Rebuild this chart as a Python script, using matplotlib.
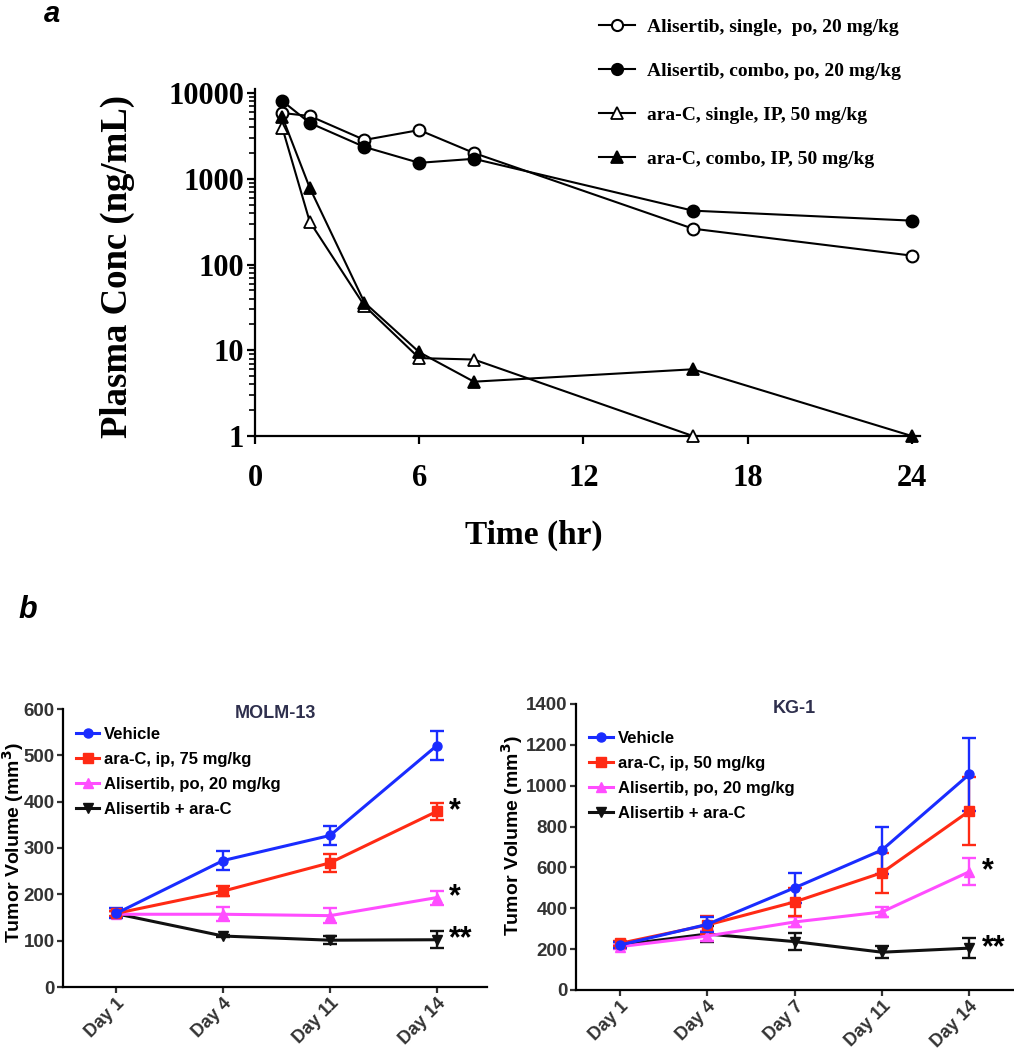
import numpy as np
import matplotlib
matplotlib.use("Agg")
import matplotlib.pyplot as plt
from matplotlib.lines import Line2D
from matplotlib.ticker import LogLocator, NullFormatter

# --- panel a: plasma PK ---
time_alis = [1, 2, 4, 6, 8, 16, 24]
alis_single = [5850, 5400, 2840, 3700, 2000, 262, 127]
alis_combo = [8070, 4480, 2350, 1535, 1710, 425, 325]
time_arac_single = [1, 2, 4, 6, 8, 16]
arac_single = [3920, 316, 33, 8.1, 7.8, 1.0]
time_arac_combo = [1, 2, 4, 6, 8, 16, 24]
arac_combo = [5250, 785, 36, 9.5, 4.3, 6.0, 1.0]
pk_labels = ["Alisertib, single,  po, 20 mg/kg",
             "Alisertib, combo, po, 20 mg/kg",
             "ara-C, single, IP, 50 mg/kg",
             "ara-C, combo, IP, 50 mg/kg"]

# --- panel b: tumour volume ---
series_names_molm = ["Vehicle", "ara-C, ip, 75 mg/kg", "Alisertib, po, 20 mg/kg", "Alisertib + ara-C"]
series_names_kg = ["Vehicle", "ara-C, ip, 50 mg/kg", "Alisertib, po, 20 mg/kg", "Alisertib + ara-C"]

molm_days = ["Day 1", "Day 4", "Day 11", "Day 14"]
molm_mean = [[159, 273, 327, 521],
             [159, 207, 268, 379],
             [157, 157, 154, 193],
             [158, 110, 101, 102]]
molm_err = [[11, 20, 20, 32],
            [6, 11, 19, 18],
            [6, 15, 16, 15],
            [6, 3, 9, 18]]

kg_days = ["Day 1", "Day 4", "Day 7", "Day 11", "Day 14"]
kg_mean = [[220, 321, 500, 685, 1056],
           [228, 318, 431, 574, 876],
           [212, 264, 333, 382, 579],
           [220, 274, 237, 185, 205]]
kg_err = [[15, 38, 72, 115, 178],
          [12, 42, 68, 97, 165],
          [10, 25, 26, 26, 65],
          [14, 38, 40, 28, 49]]

colors = ["#1a2cff", "#ff2a14", "#ff4dff", "#111111"]
markers = ["o", "s", "^", "v"]

W, H = 1014, 1050
fig = plt.figure(figsize=(W / 100, H / 100), dpi=100)

def box(left, top, right, bottom):
    return [left / W, 1 - bottom / H, (right - left) / W, (bottom - top) / H]

serif = "Liberation Serif"
sans = "Liberation Sans"

# ---------------- panel a ----------------
ax = fig.add_axes(box(255, 89.5, 920, 436))
ax.plot(time_alis, alis_single, "-o", color="black", mfc="white", mec="black",
        ms=8.5, mew=1.5, lw=1.5, label=pk_labels[0], clip_on=False, zorder=3)
ax.plot(time_alis, alis_combo, "-o", color="black", mfc="black",
        ms=8.5, mew=1.5, lw=1.5, label=pk_labels[1], clip_on=False, zorder=3)
ax.plot(time_arac_single, arac_single, "-^", color="black", mfc="white", mec="black",
        ms=8, mew=1.3, lw=1.5, label=pk_labels[2], clip_on=False, zorder=3)
ax.plot(time_arac_combo, arac_combo, "-^", color="black", mfc="black",
        ms=8, mew=1.3, lw=1.5, label=pk_labels[3], clip_on=False, zorder=3)
ax.set_yscale("log")
ax.set_ylim(1, 11000)
ax.set_xlim(0, 24.3)
ax.set_xticks([0, 6, 12, 18, 24])
ax.set_yticks([1, 10, 100, 1000, 10000])
ax.set_yticklabels(["1", "10", "100", "1000", "10000"])
ax.yaxis.set_minor_locator(LogLocator(base=10, subs=np.arange(2, 10)))
ax.yaxis.set_minor_formatter(NullFormatter())
for s in ["top", "right"]:
    ax.spines[s].set_visible(False)
for s in ["left", "bottom"]:
    ax.spines[s].set_linewidth(1.6)
ax.tick_params(axis="both", which="major", direction="out", length=6, width=1.6)
ax.tick_params(axis="y", which="minor", direction="out", length=4.5, width=1.2)
ax.tick_params(axis="x", pad=14)
ax.tick_params(axis="y", pad=2)
for lab in ax.get_xticklabels() + ax.get_yticklabels():
    lab.set_fontfamily(serif)
    lab.set_fontweight("bold")
    lab.set_fontsize(22)
ax.set_xlabel("Time (hr)", fontfamily=serif, fontweight="bold", fontsize=24, va="center")
ax.xaxis.set_label_coords(0.42, (436 - 535) / 346.5)
ax.set_ylabel("Plasma Conc (ng/mL)", fontfamily=serif, fontweight="bold", fontsize=26.5, va="center")
ax.yaxis.set_label_coords((117 - 255) / 665, 0.49)
leg = ax.legend(loc="upper left", bbox_to_anchor=(581 / W, 1 - 1 / H), bbox_transform=fig.transFigure,
                frameon=False, handlelength=1.9, handletextpad=0.6, labelspacing=1.35,
                prop={"family": serif, "weight": "bold", "size": 14})
for h in leg.legend_handles:
    h.set_markersize(8)
fig.text(52 / W, 1 - 14 / H, "a", fontfamily=sans, fontweight="bold", fontstyle="italic",
         fontsize=21, ha="center", va="center")

# ---------------- panel b ----------------
fig.text(28 / W, 1 - 610 / H, "b", fontfamily=sans, fontweight="bold", fontstyle="italic",
         fontsize=22, ha="center", va="center")

def tumor_panel(rect, left_px, days, means, errs, names, ymax, ystep, title, stars,
                leg_top, xright, ylab_x, ylab_y):
    bx = fig.add_axes(rect)
    width_px = rect[2] * W
    x = np.arange(len(days))
    for i in range(4):
        bx.errorbar(x, means[i], yerr=errs[i], color=colors[i], marker=markers[i],
                    ms=6.5, lw=2.2, elinewidth=1.7, capsize=5, capthick=1.7,
                    clip_on=False, zorder=3 + (3 - i) * 0.1)
    bx.set_xlim(-0.5, xright)
    bx.set_ylim(0, ymax)
    bx.set_yticks(np.arange(0, ymax + 1, ystep))
    bx.set_xticks(x)
    bx.set_xticklabels(days, rotation=45, ha="right", rotation_mode="anchor")
    for s in ["top", "right"]:
        bx.spines[s].set_visible(False)
    for s in ["left", "bottom"]:
        bx.spines[s].set_linewidth(1.6)
    bx.tick_params(direction="out", length=4, width=1.6, labelsize=13.5, colors="#333333", pad=2)
    bx.tick_params(axis="x", labelsize=13, pad=1.5)
    for lab in bx.get_xticklabels() + bx.get_yticklabels():
        lab.set_fontfamily(sans)
        lab.set_fontweight("bold")
    bx.set_ylabel("Tumor Volume (mm$^\\mathbf{3}$)", fontfamily=sans, fontweight="bold",
                  fontsize=14, va="center")
    bx.yaxis.set_label_coords((ylab_x - left_px) / width_px, ylab_y)
    bx.set_title(title, fontfamily=sans, fontweight="bold", fontsize=13, color="#2e2f4d",
                 y=0.985, pad=0, va="center")
    # legend shows line + marker only (no error caps)
    handles = [Line2D([], [], color=colors[i], marker=markers[i], ms=6.5, lw=2.2) for i in range(4)]
    bx.legend(handles, names, loc="upper left", bbox_to_anchor=(0.015, leg_top), frameon=False,
              handlelength=1.4, handletextpad=0.3, labelspacing=0.6, borderaxespad=0,
              prop={"family": sans, "weight": "bold", "size": 12})
    for idx, txt in stars:
        bx.annotate(txt, (x[-1], means[idx][-1]), xytext=(9, 0), textcoords="offset points",
                    ha="left", va="center", fontsize=22, fontweight="bold",
                    fontfamily=sans, color="black")
    return bx

tumor_panel(box(63, 709, 487, 987), 63, molm_days, molm_mean, molm_err, series_names_molm,
            600, 100, "MOLM-13", [(1, "*"), (2, "*"), (3, "**")], 0.96, 3.47, 13, 0.52)
tumor_panel(box(576, 704, 1013, 990), 576, kg_days, kg_mean, kg_err, series_names_kg,
            1400, 200, "KG-1", [(2, "*"), (3, "**")], 0.93, 4.5, 512, 0.54)

fig.savefig("out.png", dpi=100)
